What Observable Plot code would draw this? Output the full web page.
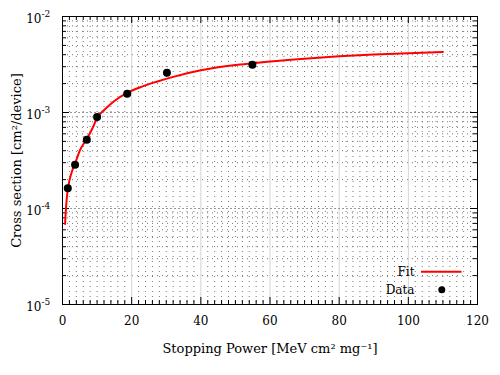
<!DOCTYPE html>
<html><head><meta charset="utf-8">
<script src="https://cdn.jsdelivr.net/npm/d3@7"></script>
<script src="https://cdn.jsdelivr.net/npm/@observablehq/plot@0.6"></script>
<style>body{margin:0;background:#fff} svg{display:block}</style>
</head><body><div id="chart"></div>
<script>
// Measured data points (Stopping power, cross section)
const dataLET = [1.53, 3.64, 7.03, 10.0, 18.7, 30.2, 54.9];
const dataSigma = [1.63e-4, 2.85e-4, 5.2e-4, 9.0e-4, 1.57e-3, 2.59e-3, 3.14e-3];

// Fit curve
const fitLET = [0.75, 1.0, 1.5, 2.0, 3.0, 4.0, 5.0, 7.0, 8.7, 10, 12.5, 15, 18.7, 23, 27, 32, 40, 50, 55, 60, 70, 80, 90, 100, 110];
const fitSigma = [6.9e-5, 1.0e-4, 1.56e-4, 1.95e-4, 2.6e-4, 3.2e-4, 4.0e-4, 5.3e-4, 6.9e-4, 8.8e-4, 1.1e-3, 1.32e-3, 1.6e-3, 1.86e-3, 2.08e-3, 2.35e-3, 2.75e-3, 3.12e-3, 3.26e-3, 3.40e-3, 3.64e-3, 3.85e-3, 4.02e-3, 4.15e-3, 4.28e-3];

// Axis ticks and labels
const xMajorTicks = [0, 20, 40, 60, 80, 100, 120];
const yMajorTicks = [1e-5, 1e-4, 1e-3, 1e-2];
const yTickBase = ["10", "10", "10", "10"];
const yTickExp = ["-5", "-4", "-3", "-2"];
const xLabel = "Stopping Power [MeV cm\u00B2 mg\u207B\u00B9]";
const yLabel = "Cross section [cm\u00B2/device]";
const legendLabels = ["Fit", "Data"];

const xMinorTicks = d3.range(0, 121, 2).filter(v => v % 20 !== 0);
const yMinorTicks = [];
for (const dec of [1e-5, 1e-4, 1e-3]) for (let m = 2; m <= 9; m++) yMinorTicks.push(m * dec);
const fit = fitLET.map((x, i) => ({x, y: fitSigma[i]}));
const pts = dataLET.map((x, i) => ({x, y: dataSigma[i]}));

const W = 500, H = 375, mL = 62, mR = 23, mT = 16, mB = 71;
const pw = W - mL - mR, ph = H - mT - mB;
const font = "DejaVu Serif";
const T = {fontFamily: font, lineAnchor: "middle"};

const plot = Plot.plot({
  width: W, height: H,
  marginLeft: mL, marginRight: mR, marginTop: mT, marginBottom: mB,
  style: {fontFamily: "'DejaVu Serif', serif", fontSize: "12px", color: "#000", background: "#fff"},
  x: {type: "linear", domain: [0, 120], axis: null},
  y: {type: "log", domain: [1e-5, 1e-2], axis: null},
  marks: [
    // grid
    Plot.ruleX(xMinorTicks, {x: d => d, stroke: "#777", strokeDasharray: "1,4", strokeWidth: 1}),
    Plot.ruleY(yMinorTicks, {y: d => d, stroke: "#777", strokeDasharray: "1,4", strokeWidth: 1}),
    Plot.ruleX(xMajorTicks.slice(1, -1), {x: d => d, stroke: "#d4d4d4", strokeWidth: 1}),
    Plot.ruleY(yMajorTicks.slice(1, -1), {y: d => d, stroke: "#999", strokeDasharray: "2,2", strokeWidth: 1}),
    // ticks (inward, mirrored)
    Plot.tickX(xMinorTicks, {x: d => d, insetTop: ph - 4, stroke: "#000"}),
    Plot.tickX(xMinorTicks, {x: d => d, insetBottom: ph - 4, stroke: "#000"}),
    Plot.tickX(xMajorTicks, {x: d => d, insetTop: ph - 7, stroke: "#000"}),
    Plot.tickX(xMajorTicks, {x: d => d, insetBottom: ph - 7, stroke: "#000"}),
    Plot.tickY(yMinorTicks, {y: d => d, insetRight: pw - 4, stroke: "#000"}),
    Plot.tickY(yMinorTicks, {y: d => d, insetLeft: pw - 4, stroke: "#000"}),
    Plot.tickY(yMajorTicks, {y: d => d, insetRight: pw - 7, stroke: "#000"}),
    Plot.tickY(yMajorTicks, {y: d => d, insetLeft: pw - 7, stroke: "#000"}),
    Plot.frame({stroke: "#000", strokeWidth: 1}),
    // tick labels
    Plot.text(xMajorTicks, {...T, x: d => d, text: d => String(d), frameAnchor: "bottom", textAnchor: "middle", dy: 17, fontSize: 12}),
    Plot.text(yMajorTicks, {...T, y: d => d, text: (d, i) => yTickBase[i], frameAnchor: "left", textAnchor: "end", dx: -21, dy: 2.3, fontSize: 12}),
    Plot.text(yMajorTicks, {...T, y: d => d, text: (d, i) => yTickExp[i], frameAnchor: "left", textAnchor: "start", dx: -21, dy: -2, fontSize: 9}),
    // axis titles
    Plot.text([xLabel], {...T, text: d => d, frameAnchor: "bottom", textAnchor: "middle", dy: 44, fontSize: 13}),
    Plot.text([yLabel], {...T, text: d => d, frameAnchor: "left", textAnchor: "middle", rotate: -90, dx: -46, fontSize: 13}),
    // data
    Plot.line(fit, {x: "x", y: "y", stroke: "#ff0000", strokeWidth: 2, curve: "monotone-x"}),
    Plot.dot(pts, {x: "x", y: "y", r: 4, fill: "#000", stroke: null}),
    // legend
    Plot.text([legendLabels[0]], {...T, text: d => d, frameAnchor: "bottom-right", textAnchor: "end", dx: -63, dy: -32.3, fontSize: 12}),
    Plot.text([legendLabels[1]], {...T, text: d => d, frameAnchor: "bottom-right", textAnchor: "end", dx: -63, dy: -14.7, fontSize: 12}),
    Plot.dot([0], {frameAnchor: "bottom-right", dx: -35.7, dy: -14.7, r: 3.5, fill: "#000", stroke: null}),
    (index, scales, values, dims) => {
      const x0 = dims.width - dims.marginRight;
      const y0 = dims.height - dims.marginBottom;
      return d3.create("svg:line")
        .attr("x1", x0 - 56).attr("x2", x0 - 15.5)
        .attr("y1", y0 - 32.3).attr("y2", y0 - 32.3)
        .attr("stroke", "#ff0000").attr("stroke-width", 2).node();
    }
  ]
});
document.getElementById("chart").appendChild(plot);
</script>
</body></html>
